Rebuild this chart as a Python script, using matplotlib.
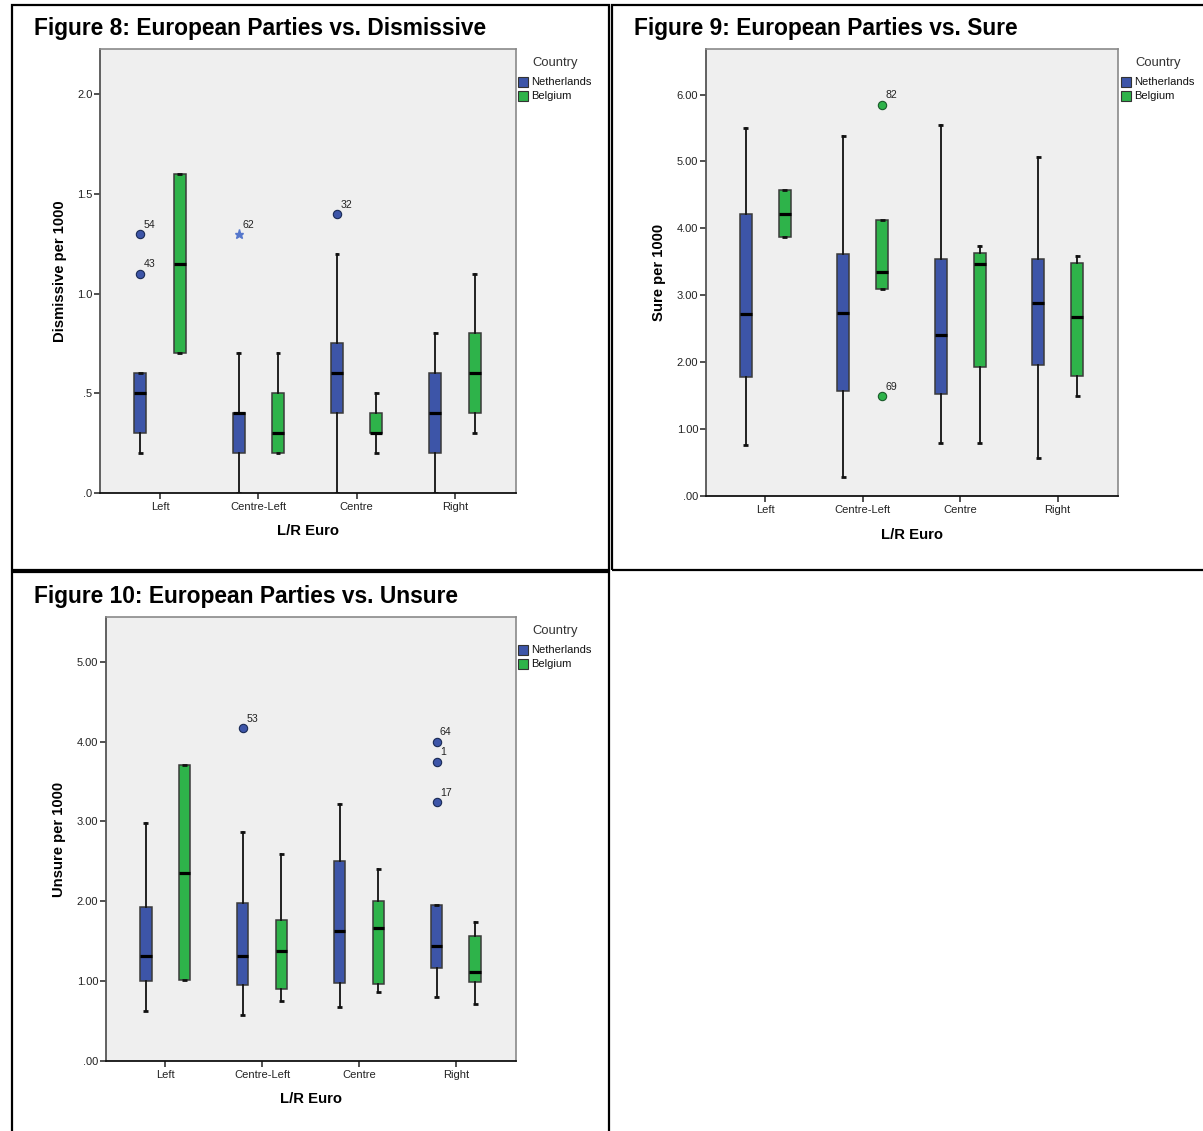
import matplotlib
matplotlib.use('Agg')
import numpy as np
import matplotlib.pyplot as plt
from matplotlib.patches import Rectangle
from matplotlib.ticker import FixedLocator, FixedFormatter

W, H = 1203, 1131

categories = ['Left', 'Centre-Left', 'Centre', 'Right']
countries = ['Netherlands', 'Belgium']
country_colors = ['#3D55A8', '#2EB34A']

# ---- Figure 8: Dismissive per 1000 (whislo, q1, median, q3, whishi) ----
dismissive_nl = [[0.2, 0.3, 0.5, 0.6, 0.6],
                 [0.0, 0.2, 0.4, 0.4, 0.7],
                 [0.0, 0.4, 0.6, 0.75, 1.2],
                 [0.0, 0.2, 0.4, 0.6, 0.8]]
dismissive_be = [[0.7, 0.7, 1.15, 1.6, 1.6],
                 [0.2, 0.2, 0.3, 0.5, 0.7],
                 [0.2, 0.3, 0.3, 0.4, 0.5],
                 [0.3, 0.4, 0.6, 0.8, 1.1]]
dismissive_out_cat = [0, 0, 1, 2]
dismissive_out_country = [0, 0, 0, 0]
dismissive_out_val = [1.3, 1.1, 1.3, 1.4]
dismissive_out_label = ['54', '43', '62', '32']
dismissive_out_extreme = [False, False, True, False]
dismissive_ticks = [0.0, 0.5, 1.0, 1.5, 2.0]
dismissive_ticklabels = ['.0', '.5', '1.0', '1.5', '2.0']

# ---- Figure 9: Sure per 1000 ----
sure_nl = [[0.76, 1.78, 2.72, 4.21, 5.50],
           [0.29, 1.57, 2.74, 3.61, 5.38],
           [0.79, 1.53, 2.41, 3.54, 5.55],
           [0.57, 1.96, 2.89, 3.54, 5.06]]
sure_be = [[3.87, 3.87, 4.22, 4.57, 4.57],
           [3.09, 3.09, 3.34, 4.13, 4.13],
           [0.79, 1.93, 3.46, 3.63, 3.73],
           [1.49, 1.80, 2.67, 3.48, 3.59]]
sure_out_cat = [1, 1]
sure_out_country = [1, 1]
sure_out_val = [5.85, 1.49]
sure_out_label = ['82', '69']
sure_out_extreme = [False, False]
sure_ticks = [0, 1, 2, 3, 4, 5, 6]
sure_ticklabels = ['.00', '1.00', '2.00', '3.00', '4.00', '5.00', '6.00']

# ---- Figure 10: Unsure per 1000 ----
unsure_nl = [[0.63, 1.00, 1.31, 1.93, 2.98],
             [0.58, 0.95, 1.31, 1.98, 2.87],
             [0.68, 0.98, 1.63, 2.51, 3.22],
             [0.80, 1.16, 1.44, 1.95, 1.95]]
unsure_be = [[1.02, 1.02, 2.36, 3.71, 3.71],
             [0.75, 0.90, 1.38, 1.77, 2.59],
             [0.87, 0.97, 1.67, 2.00, 2.41],
             [0.71, 0.99, 1.11, 1.56, 1.74]]
unsure_out_cat = [1, 3, 3, 3]
unsure_out_country = [0, 0, 0, 0]
unsure_out_val = [4.17, 4.00, 3.75, 3.24]
unsure_out_label = ['53', '64', '1', '17']
unsure_out_extreme = [False, False, False, False]
unsure_ticks = [0, 1, 2, 3, 4, 5]
unsure_ticklabels = ['.00', '1.00', '2.00', '3.00', '4.00', '5.00']

plt.rcParams['font.family'] = ['Liberation Sans', 'DejaVu Sans']

fig = plt.figure(figsize=(W / 100, H / 100), dpi=100)


def px_axes(x0, y0, x1, y1):
    return fig.add_axes([x0 / W, 1 - y1 / H, (x1 - x0) / W, (y1 - y0) / H])


def fx(x):
    return x / W


def fy(y):
    return 1 - y / H


def draw_panel(box, title, title_xy, ax_rect, ylabel, ylabel_x, xlabel_y,
               nl, be, ytop, ticks, ticklabels,
               oc, ocountry, ov, olab, oext, legend_xy):
    # panel border
    x0, y0, x1, y1 = box
    fig.add_artist(Rectangle((fx(x0), fy(y1)), fx(x1) - fx(x0), fy(y0) - fy(y1),
                             transform=fig.transFigure, fill=False,
                             ec='black', lw=1.6, zorder=10))
    fig.text(fx(title_xy[0]), fy(title_xy[1]), title, fontsize=16.4,
             fontweight='bold', ha='left', va='center', color='black')

    ax = px_axes(*ax_rect)
    ax.set_facecolor('#EFEFEF')
    offset = 0.2
    for ci, data in enumerate([nl, be]):
        stats = []
        for row in data:
            stats.append(dict(whislo=row[0], q1=row[1], med=row[2], q3=row[3],
                              whishi=row[4], fliers=[]))
        pos = np.arange(len(categories)) + (-offset if ci == 0 else offset)
        ax.bxp(stats, positions=pos, widths=0.12, patch_artist=True,
               showfliers=False, capwidths=0.05,
               boxprops=dict(facecolor=country_colors[ci], edgecolor='#3a3a3a', lw=1.1),
               medianprops=dict(color='black', lw=2.3, solid_capstyle='butt'),
               whiskerprops=dict(color='#111111', lw=1.3),
               capprops=dict(color='#111111', lw=2.0, solid_capstyle='butt'))
    # outliers
    for c, cn, v, lab, ext in zip(oc, ocountry, ov, olab, oext):
        xpos = c + (-offset if cn == 0 else offset)
        if ext:
            ax.plot([xpos], [v], marker='*', ms=6.5, color='#5577CC',
                    mec='#5577CC', ls='none', zorder=5)
        else:
            ax.plot([xpos], [v], marker='o', ms=6.0,
                    mfc=country_colors[cn], mec='#1a2a55' if cn == 0 else '#1a5a2a',
                    mew=0.8, ls='none', zorder=5)
        ax.annotate(lab, (xpos, v), xytext=(2.5, 3.0), textcoords='offset points',
                    fontsize=7.6, ha='left', va='bottom', color='#222222')

    ax.set_xlim(-0.61, len(categories) - 1 + 0.62)
    ax.set_ylim(0, ytop)
    ax.xaxis.set_major_locator(FixedLocator(np.arange(len(categories))))
    ax.xaxis.set_major_formatter(FixedFormatter(categories))
    ax.yaxis.set_major_locator(FixedLocator(ticks))
    ax.yaxis.set_major_formatter(FixedFormatter(ticklabels))
    ax.tick_params(axis='both', direction='out', length=4.5, width=1.1,
                   labelsize=8.0, colors='#222222', pad=2)
    ax.tick_params(axis='y', pad=1)
    for s in ['top', 'right']:
        ax.spines[s].set_color('#8a8a8a')
        ax.spines[s].set_linewidth(1.2)
    ax.spines['left'].set_color('#555555')
    ax.spines['left'].set_linewidth(1.3)
    ax.spines['bottom'].set_color('#111111')
    ax.spines['bottom'].set_linewidth(1.3)

    # axis labels
    axx0, axy0, axx1, axy1 = ax_rect
    fig.text(fx((axx0 + axx1) / 2), fy(xlabel_y), 'L/R Euro', fontsize=10.7,
             fontweight='bold', ha='center', va='center')
    fig.text(fx(ylabel_x), fy((axy0 + axy1) / 2), ylabel, fontsize=10.7,
             fontweight='bold', ha='center', va='center', rotation=90)

    # legend
    lx, ly = legend_xy
    fig.text(fx(lx + 14), fy(ly), 'Country', fontsize=9.4, ha='left',
             va='center', color='#333333')
    for i, name in enumerate(countries):
        top = ly + 14 + i * 14
        fig.add_artist(Rectangle((fx(lx), fy(top + 10)), 10 / W, 10 / H,
                                 transform=fig.transFigure,
                                 fc=country_colors[i], ec='#333333', lw=0.8))
        fig.text(fx(lx + 13), fy(top + 5), name, fontsize=8.0, ha='left',
                 va='center', color='#111111')
    return ax


draw_panel((12, 5, 609, 570), 'Figure 8: European Parties vs. Dismissive', (34, 28),
           (100, 49, 516, 493), 'Dismissive per 1000', 60, 531,
           dismissive_nl, dismissive_be, 2.226, dismissive_ticks, dismissive_ticklabels,
           dismissive_out_cat, dismissive_out_country, dismissive_out_val,
           dismissive_out_label, dismissive_out_extreme, (518, 63))

draw_panel((612, 5, 1210, 570), 'Figure 9: European Parties vs. Sure', (634, 28),
           (706, 49, 1118, 496), 'Sure per 1000', 659, 535,
           sure_nl, sure_be, 6.68, sure_ticks, sure_ticklabels,
           sure_out_cat, sure_out_country, sure_out_val,
           sure_out_label, sure_out_extreme, (1121, 63))

draw_panel((12, 572, 609, 1140), 'Figure 10: European Parties vs. Unsure', (34, 597),
           (106, 617, 516, 1061), 'Unsure per 1000', 59, 1099,
           unsure_nl, unsure_be, 5.56, unsure_ticks, unsure_ticklabels,
           unsure_out_cat, unsure_out_country, unsure_out_val,
           unsure_out_label, unsure_out_extreme, (518, 631))

fig.savefig('out.png', dpi=100, facecolor='white')
